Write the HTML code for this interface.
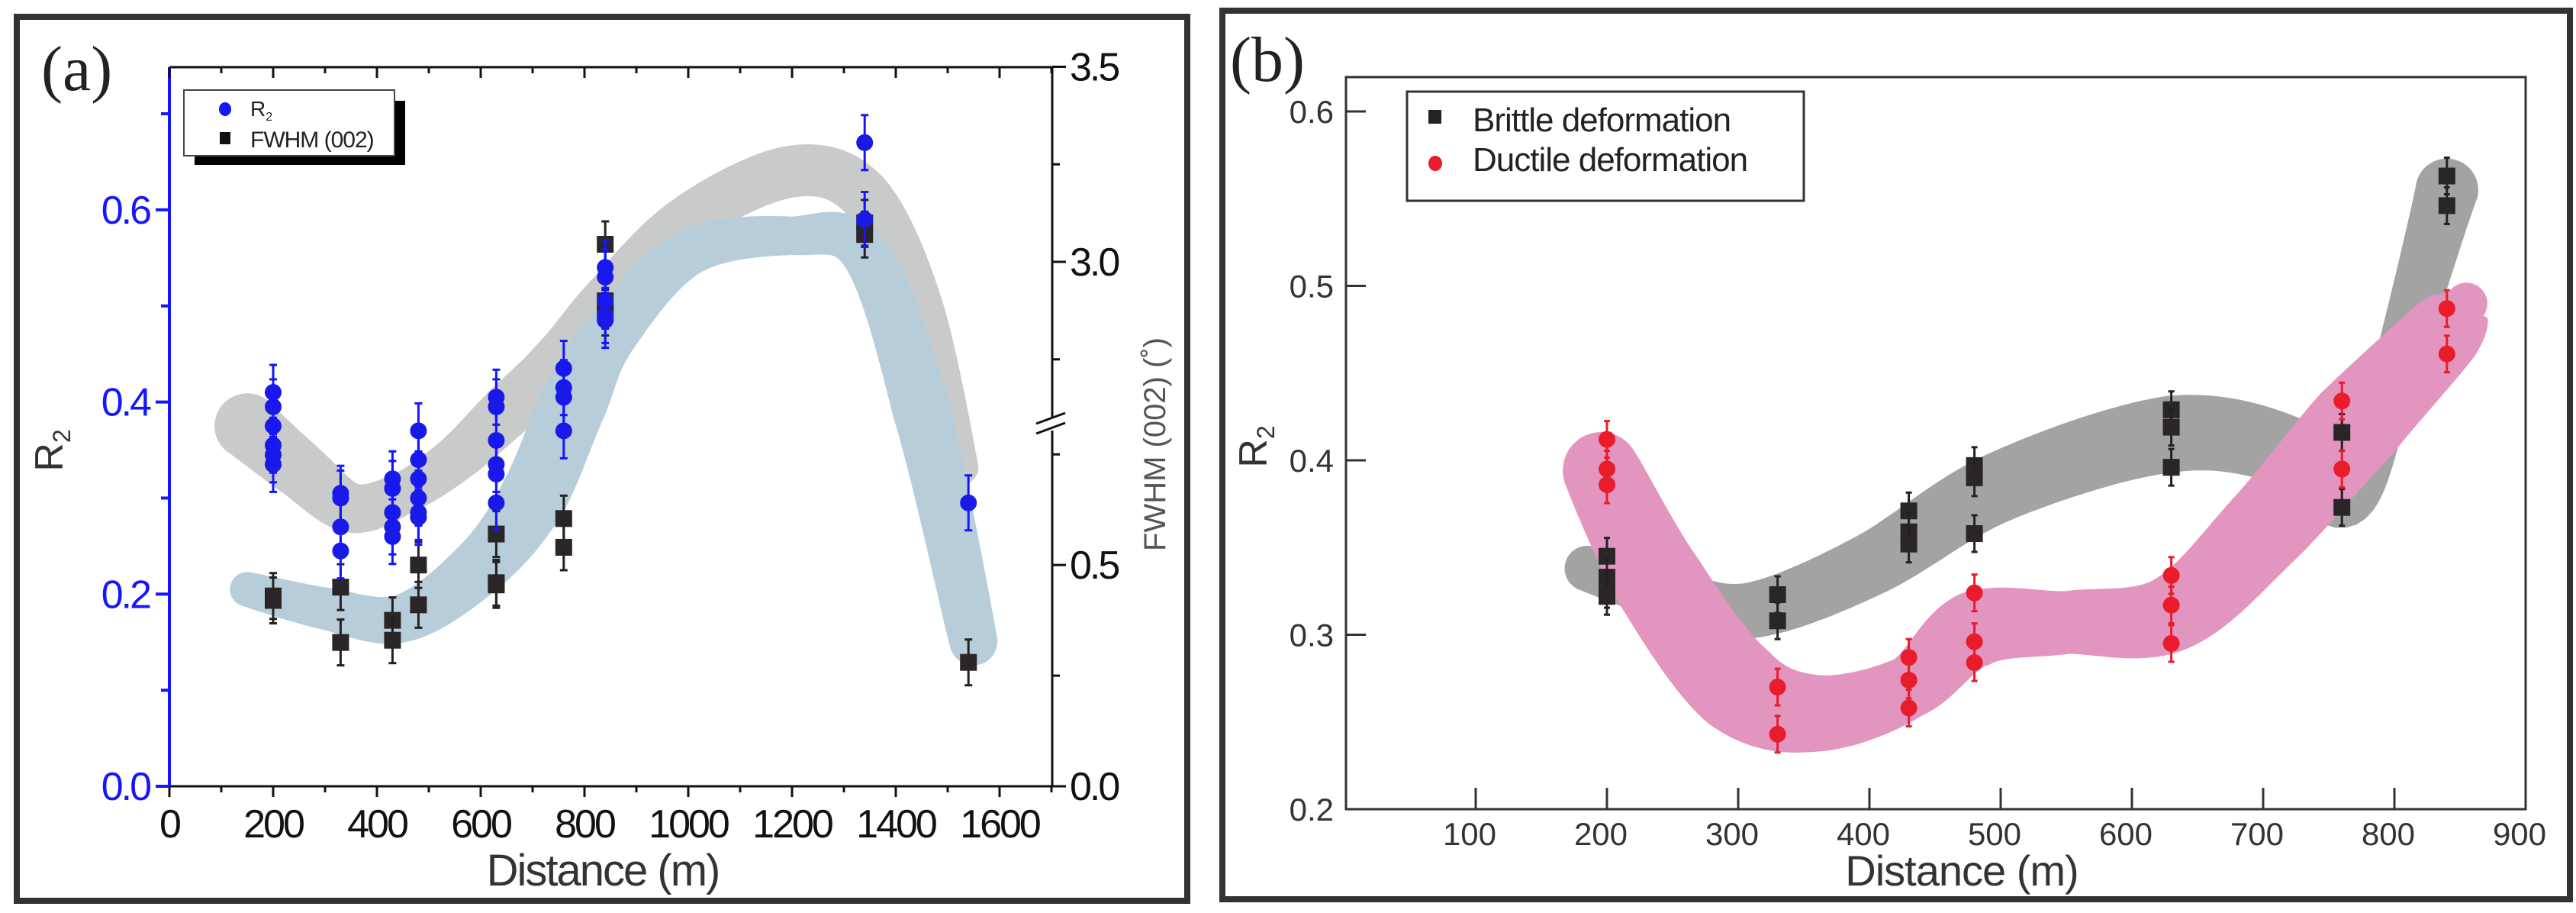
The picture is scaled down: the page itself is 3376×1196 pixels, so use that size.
<!DOCTYPE html>
<html><head><meta charset="utf-8"><style>
html,body{margin:0;padding:0;background:#fff}
svg{display:block}
text{font-family:"Liberation Sans",sans-serif}
</style></head><body>
<svg id="fig" width="3376" height="1196" viewBox="0 0 3376 1196" xmlns="http://www.w3.org/2000/svg">
<rect x="0" y="0" width="3376" height="1196" fill="#fff"/>
<g id="pa"></g>
<g id="pb"></g>
</svg>
<script>
// ---------- Panel (a) data ----------
const aBlueX = [200,200,200,200,200,200,330,330,330,330,430,430,430,430,430,480,480,480,480,480,480,630,630,630,630,630,630,760,760,760,760,840,840,840,840,840,1340,1340,1540];
const aBlueR2 = [0.41,0.395,0.375,0.355,0.345,0.335,0.305,0.30,0.27,0.245,0.32,0.31,0.285,0.27,0.26,0.37,0.34,0.32,0.30,0.285,0.28,0.405,0.395,0.36,0.335,0.325,0.295,0.435,0.415,0.405,0.37,0.54,0.53,0.505,0.49,0.485,0.67,0.59,0.295];
const aBlackX = [200,200,330,330,430,430,480,480,630,630,630,760,760,840,840,840,1340,1340,1540];
const aFWHM = [0.43,0.42,0.45,0.325,0.375,0.33,0.50,0.41,0.57,0.46,0.455,0.605,0.54,3.045,2.90,2.87,3.07,3.10,0.28];
const aGrayBandX = [150,250,350,450,550,650,750,850,1000,1200,1340,1450,1530];
const aGrayBandC = [0.375,0.33,0.29,0.305,0.34,0.39,0.44,0.51,0.59,0.64,0.615,0.50,0.33];
const aGrayBandW = [0.034,0.03,0.026,0.022,0.024,0.028,0.03,0.026,0.026,0.027,0.027,0.022,0.016];
const aBlueBandX = [150,300,450,600,700,780,850,1000,1200,1340,1450,1550];
const aBlueBandC = [0.205,0.185,0.175,0.23,0.30,0.40,0.47,0.555,0.573,0.555,0.39,0.15];
const aBlueBandW = [0.018,0.022,0.025,0.03,0.035,0.035,0.028,0.024,0.02,0.025,0.03,0.025];
const aXTicks = [0,200,400,600,800,1000,1200,1400,1600];
const aYTicks = [0.0,0.2,0.4,0.6];
const aRTicks = [0.0,0.5,3.0,3.5];

// ---------- Panel (b) data ----------
const bBrittleX = [200,200,200,200,330,330,430,430,430,480,480,480,630,630,630,760,760,840,840];
const bBrittleY = [0.345,0.333,0.326,0.322,0.323,0.308,0.371,0.359,0.352,0.397,0.39,0.358,0.429,0.419,0.396,0.416,0.373,0.563,0.546];
const bDuctileX = [200,200,200,330,330,430,430,430,480,480,480,630,630,630,760,760,840,840];
const bDuctileY = [0.412,0.395,0.386,0.270,0.243,0.287,0.274,0.258,0.324,0.296,0.284,0.334,0.317,0.295,0.434,0.395,0.487,0.461];
const bGrayBandX = [185,250,310,400,500,630,720,765,800,840];
const bGrayBandC = [0.338,0.322,0.314,0.34,0.385,0.415,0.405,0.378,0.45,0.555];
const bGrayBandW = [0.013,0.015,0.016,0.018,0.02,0.022,0.02,0.015,0.013,0.018];
const bPinkBandX = [195,240,300,360,430,480,550,630,700,770,840,855];
const bPinkBandC = [0.395,0.33,0.27,0.255,0.27,0.303,0.307,0.312,0.36,0.42,0.475,0.49];
const bPinkBandW = [0.022,0.026,0.027,0.022,0.018,0.022,0.018,0.022,0.025,0.027,0.022,0.012];
const bXTicks = [100,200,300,400,500,600,700,800,900];
const bYTicks = [0.2,0.3,0.4,0.5,0.6];

const NS = "http://www.w3.org/2000/svg";
function mk(parent, tag, attrs, txt){
  const e = document.createElementNS(NS, tag);
  for (const k in attrs) e.setAttribute(k, attrs[k]);
  if (txt !== undefined) e.textContent = txt;
  parent.appendChild(e);
  return e;
}
function bandPath(pts, hws){
  const s = [], w = [];
  const n = pts.length;
  for (let i=0;i<n-1;i++){
    const p0=pts[Math.max(0,i-1)], p1=pts[i], p2=pts[i+1], p3=pts[Math.min(n-1,i+2)];
    for (let t=0;t<1;t+=0.05){
      const t2=t*t,t3=t2*t;
      const f=(a,b,c,d)=>0.5*((2*b)+(-a+c)*t+(2*a-5*b+4*c-d)*t2+(-a+3*b-3*c+d)*t3);
      s.push([f(p0[0],p1[0],p2[0],p3[0]), f(p0[1],p1[1],p2[1],p3[1])]);
      w.push(hws[i]+(hws[i+1]-hws[i])*t);
    }
  }
  s.push(pts[n-1]); w.push(hws[n-1]);
  const top=[], bot=[];
  for (let i=0;i<s.length;i++){
    const a=s[Math.max(0,i-1)], b=s[Math.min(s.length-1,i+1)];
    let dx=b[0]-a[0], dy=b[1]-a[1]; const L=Math.hypot(dx,dy)||1;
    const nx=-dy/L, ny=dx/L;
    top.push([s[i][0]+nx*w[i], s[i][1]+ny*w[i]]);
    bot.push([s[i][0]-nx*w[i], s[i][1]-ny*w[i]]);
  }
  let d="M"+top.map(p=>p[0].toFixed(1)+","+p[1].toFixed(1)).join(" L");
  d+=` A${w[w.length-1]},${w[w.length-1]} 0 0 0 ${bot[bot.length-1][0].toFixed(1)},${bot[bot.length-1][1].toFixed(1)}`;
  d+=" L"+bot.slice().reverse().map(p=>p[0].toFixed(1)+","+p[1].toFixed(1)).join(" L");
  d+=` A${w[0]},${w[0]} 0 0 0 ${top[0][0].toFixed(1)},${top[0][1].toFixed(1)} Z`;
  return d;
}

// ================= PANEL A =================
(function(){
  const g = document.getElementById('pa');
  const xA = m => 222 + m*0.68;
  const yL = v => 1030 - v*1258.5;
  const yR = v => v <= 1.5 ? 1030 - v*579.7 : 343 - (v-3)*511;
  const b = mk(g,'rect',{x:22,y:22,width:1534,height:1158,fill:'none',stroke:'#333'});
  b.setAttribute('stroke-width','8');
  
  
  const lab = mk(g,'text',{x:54,y:118,'font-size':84,fill:'#222',style:'font-family:"Liberation Serif",serif'},'(a)');
  
  

  const gb = mk(g,'path',{d:bandPath(aGrayBandX.map((m,i)=>[xA(m),yL(aGrayBandC[i])]), aGrayBandW.map(w=>w*1258.5)), fill:'#c9caca'});
  
  
  const bb = mk(g,'path',{d:bandPath(aBlueBandX.map((m,i)=>[xA(m),yL(aBlueBandC[i])]), aBlueBandW.map(w=>w*1258.5)), fill:'#b7cdda'});
  
  

  const ax = mk(g,'g',{});
  
  
  mk(ax,'line',{x1:222,y1:1030,x2:1379,y2:1030,stroke:'#111','stroke-width':3});
  mk(ax,'line',{x1:222,y1:88,x2:1379,y2:88,stroke:'#111','stroke-width':3});
  mk(ax,'line',{x1:222,y1:88,x2:222,y2:1030,stroke:'#1515ff','stroke-width':4});
  mk(ax,'line',{x1:1379,y1:88,x2:1379,y2:1030,stroke:'#111','stroke-width':3});
  mk(ax,'rect',{x:1370,y:548,width:18,height:16,fill:'#fff'});
  mk(ax,'line',{x1:1358,y1:555,x2:1396,y2:541,stroke:'#111','stroke-width':3});
  mk(ax,'line',{x1:1358,y1:568,x2:1396,y2:554,stroke:'#111','stroke-width':3});
  for (let m=0;m<=1700;m+=100){
    const maj = m%200===0;
    mk(ax,'line',{x1:xA(m),y1:1030,x2:xA(m),y2:1030+(maj?14:8),stroke:'#111','stroke-width':3});
    mk(ax,'line',{x1:xA(m),y1:88,x2:xA(m),y2:88+(maj?14:8),stroke:'#111','stroke-width':3});
  }
  aXTicks.forEach(t=>{
    const e = mk(g,'text',{x:xA(t),y:1097,'font-size':52,'text-anchor':'middle',fill:'#111','letter-spacing':-3},String(t));
    
    
  });
  for (let v=0; v<=0.71; v+=0.1){
    const maj = Math.round(v*10)%2===0;
    mk(ax,'line',{x1:222,y1:yL(v),x2:222-(maj?18:11),y2:yL(v),stroke:'#1515ff','stroke-width':4});
  }
  aYTicks.forEach(t=>{
    const e = mk(g,'text',{x:196,y:yL(t)+18,'font-size':52,'text-anchor':'end',fill:'#1515ff','letter-spacing':-3},t.toFixed(1));
    
    
  });
  [0,0.5,3.0,3.5].forEach(v=>mk(ax,'line',{x1:1379,y1:yR(v),x2:1397,y2:yR(v),stroke:'#111','stroke-width':3}));
  [0.25,0.75,2.75,3.25].forEach(v=>mk(ax,'line',{x1:1379,y1:yR(v),x2:1389,y2:yR(v),stroke:'#111','stroke-width':3}));
  aRTicks.forEach(t=>{
    const e = mk(g,'text',{x:1402,y:yR(t)+18,'font-size':52,fill:'#111','letter-spacing':-3},t.toFixed(1));
    
    
  });
  const xt = mk(g,'text',{x:790,y:1160,'font-size':58,'text-anchor':'middle',fill:'#333','letter-spacing':-2},'Distance (m)');
  
  
  const yt = mk(g,'text',{transform:'translate(82,590) rotate(-90)','font-size':52,'text-anchor':'middle',fill:'#333'});
  
  
  yt.innerHTML = 'R<tspan font-size="32" dy="10">2</tspan>';
  const yr = mk(g,'text',{transform:'translate(1527,582) rotate(-90)','font-size':40,'text-anchor':'middle',fill:'#555'},'FWHM (002) (˚)');
  
  

  const sq = mk(g,'g',{});
  
  
  aBlackX.forEach((m,i)=>{
    const x=xA(m), y=yR(aFWHM[i]);
    mk(sq,'line',{x1:x,y1:y-30,x2:x,y2:y+30,stroke:'#222','stroke-width':3});
    mk(sq,'line',{x1:x-5,y1:y-30,x2:x+5,y2:y-30,stroke:'#222','stroke-width':3});
    mk(sq,'line',{x1:x-5,y1:y+30,x2:x+5,y2:y+30,stroke:'#222','stroke-width':3});
    const r = mk(sq,'rect',{x:x-11,y:y-11,width:22,height:22,fill:'#2a2526'});
    
    
  });
  const bc = mk(g,'g',{});
  
  
  aBlueX.forEach((m,i)=>{
    const x=xA(m), y=yL(aBlueR2[i]);
    mk(bc,'line',{x1:x,y1:y-36,x2:x,y2:y+36,stroke:'#1515ff','stroke-width':3});
    mk(bc,'line',{x1:x-5,y1:y-36,x2:x+5,y2:y-36,stroke:'#1515ff','stroke-width':3});
    mk(bc,'line',{x1:x-5,y1:y+36,x2:x+5,y2:y+36,stroke:'#1515ff','stroke-width':3});
    const c = mk(bc,'circle',{cx:x,cy:y,r:11,fill:'#1a1ae6'});
    
    
  });

  const lg = mk(g,'g',{});
  
  
  mk(lg,'rect',{x:255,y:132,width:276,height:84,fill:'#000'});
  mk(lg,'rect',{x:241,y:118,width:276,height:86,fill:'#fff',stroke:'#444','stroke-width':2});
  mk(lg,'ellipse',{cx:295,cy:143,rx:8,ry:9,fill:'#1515ff'});
  const t1 = mk(lg,'text',{x:328,y:152,'font-size':28,fill:'#222'});
  t1.innerHTML = 'R<tspan font-size="16" dy="6">2</tspan>';
  
  
  mk(lg,'rect',{x:288,y:173,width:14,height:16,fill:'#111'});
  const t2 = mk(lg,'text',{x:328,y:193,'font-size':30,fill:'#222','letter-spacing':-1},'FWHM (002)');
  
  
})();

// ================= PANEL B =================
(function(){
  const g = document.getElementById('pb');
  const xB = m => 1762 + m*1.72;
  const yB = v => 1060 - (v-0.2)*2285;
  const b = mk(g,'rect',{x:1602,y:14,width:1766,height:1164,fill:'none',stroke:'#333'});
  b.setAttribute('stroke-width','8');
  
  
  const lab = mk(g,'text',{x:1612,y:106,'font-size':84,fill:'#222',style:'font-family:"Liberation Serif",serif'},'(b)');
  
  

  const gb = mk(g,'path',{d:bandPath(bGrayBandX.map((m,i)=>[xB(m),yB(bGrayBandC[i])]), bGrayBandW.map(w=>w*2285)), fill:'#a3a3a3'});
  
  
  const pb = mk(g,'path',{d:bandPath(bPinkBandX.map((m,i)=>[xB(m),yB(bPinkBandC[i])]), bPinkBandW.map(w=>w*2285)), fill:'#e296bf'});
  
  

  const ax = mk(g,'g',{});
  
  
  mk(ax,'rect',{x:1764,y:101,width:1546,height:959,fill:'none',stroke:'#333','stroke-width':3});
  bXTicks.forEach(t=>{
    mk(ax,'line',{x1:xB(t),y1:1060,x2:xB(t),y2:1032,stroke:'#333','stroke-width':3});
    const e = mk(g,'text',{x:xB(t)-8,y:1107,'font-size':42,'text-anchor':'middle',fill:'#333'},String(t));
    
    
  });
  bYTicks.forEach(t=>{
    mk(ax,'line',{x1:1764,y1:yB(t),x2:1790,y2:yB(t),stroke:'#333','stroke-width':3});
    const e = mk(g,'text',{x:1748,y:yB(t)+15,'font-size':42,'text-anchor':'end',fill:'#333'},t.toFixed(1));
    
    
  });
  const xt = mk(g,'text',{x:2571,y:1160,'font-size':56,'text-anchor':'middle',fill:'#333','letter-spacing':-1},'Distance (m)');
  
  
  const yt = mk(g,'text',{transform:'translate(1660,585) rotate(-90)','font-size':52,'text-anchor':'middle',fill:'#333'});
  yt.innerHTML = 'R<tspan font-size="32" dy="10">2</tspan>';
  
  

  const sq = mk(g,'g',{});
  
  
  bBrittleX.forEach((m,i)=>{
    const x=xB(m), y=yB(bBrittleY[i]);
    mk(sq,'line',{x1:x,y1:y-24,x2:x,y2:y+24,stroke:'#222','stroke-width':3});
    mk(sq,'line',{x1:x-4,y1:y-24,x2:x+4,y2:y-24,stroke:'#222','stroke-width':3});
    mk(sq,'line',{x1:x-4,y1:y+24,x2:x+4,y2:y+24,stroke:'#222','stroke-width':3});
    const r = mk(sq,'rect',{x:x-11,y:y-11,width:22,height:22,fill:'#2a2526'});
    
    
  });
  const dc = mk(g,'g',{});
  
  
  bDuctileX.forEach((m,i)=>{
    const x=xB(m), y=yB(bDuctileY[i]);
    mk(dc,'line',{x1:x,y1:y-24,x2:x,y2:y+24,stroke:'#e81c2a','stroke-width':3});
    mk(dc,'line',{x1:x-4,y1:y-24,x2:x+4,y2:y-24,stroke:'#e81c2a','stroke-width':3});
    mk(dc,'line',{x1:x-4,y1:y+24,x2:x+4,y2:y+24,stroke:'#e81c2a','stroke-width':3});
    const c = mk(dc,'circle',{cx:x,cy:y,r:11,fill:'#e81c2a'});
    
    
  });

  const lg = mk(g,'g',{});
  
  
  mk(lg,'rect',{x:1844,y:120,width:520,height:143,fill:'#fff',stroke:'#333','stroke-width':3});
  mk(lg,'rect',{x:1872,y:144,width:17,height:18,fill:'#222'});
  const t1 = mk(lg,'text',{x:1930,y:172,'font-size':44,fill:'#222','letter-spacing':-1},'Brittle deformation');
  
  
  mk(lg,'ellipse',{cx:1881,cy:214,rx:9,ry:10,fill:'#e81c2a'});
  const t2 = mk(lg,'text',{x:1930,y:224,'font-size':44,fill:'#222','letter-spacing':-1},'Ductile deformation');
  
  
})();
</script>
</body></html>
